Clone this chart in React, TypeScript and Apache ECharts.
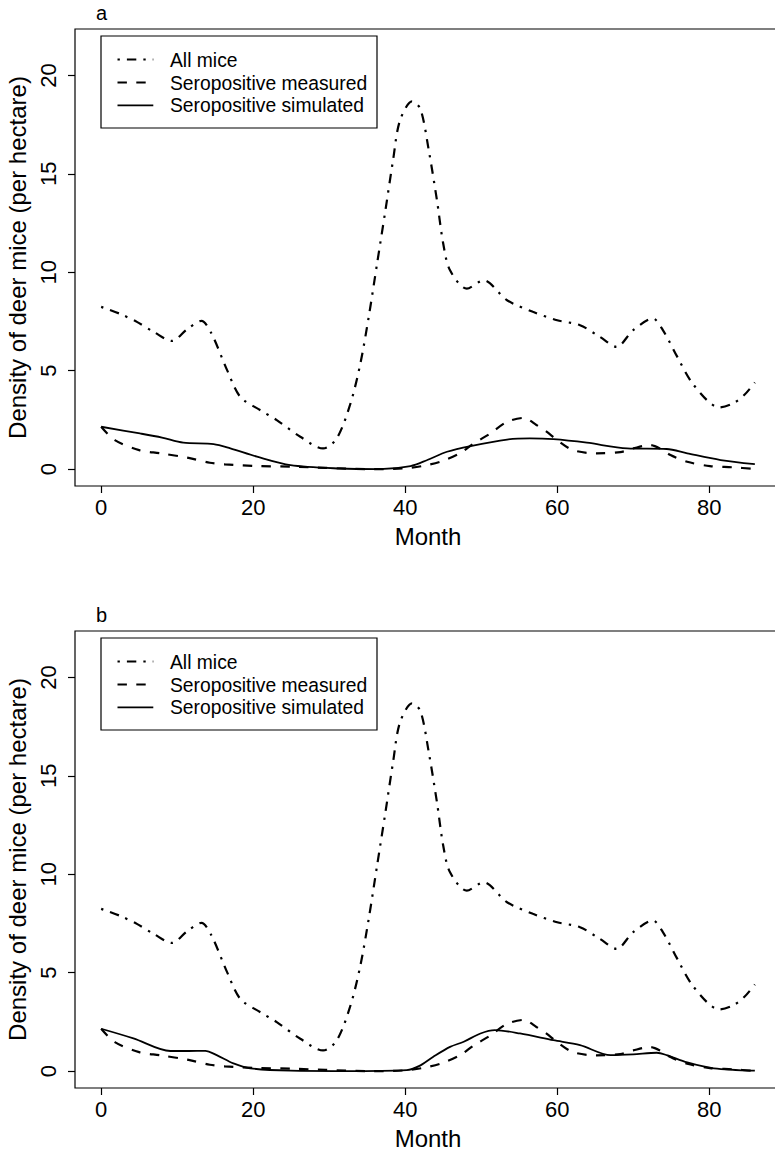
import React, { useEffect, useRef } from "react";
import * as echarts from "echarts";

// ---- Data ----
const allMiceMonths = [0, 2.4, 4.7, 7.0, 9.3, 11.3, 13.2, 14.5, 16.6, 18.3, 20.9, 23.1, 26.2, 29.2, 31.0, 32.8, 34.1, 35.2, 36.3, 37.4, 38.4, 39.3, 40.9, 42.0, 43.1, 44.2, 45.0, 45.9, 48.1, 50.3, 53.4, 56.8, 60.0, 63.0, 65.6, 67.8, 70.0, 72.6, 73.9, 75.8, 77.5, 79.7, 81.3, 83.1, 84.6, 86];
const allMiceValues = [8.24, 7.9, 7.48, 6.95, 6.51, 7.1, 7.53, 6.9, 5.0, 3.67, 3.0, 2.49, 1.64, 1.05, 1.56, 3.33, 5.36, 7.73, 10.44, 13.15, 15.69, 17.7, 18.68, 18.3, 16.2, 13.6, 11.46, 10.1, 9.17, 9.59, 8.58, 7.99, 7.56, 7.31, 6.72, 6.21, 7.06, 7.65, 7.06, 5.7, 4.52, 3.5, 3.13, 3.33, 3.76, 4.4];

const measuredMonths = [0, 1.8, 5.0, 7.8, 11.5, 14.3, 16.3, 20.3, 25.3, 29.5, 35.5, 39.7, 42.2, 44.6, 47.2, 49.0, 51.2, 53.4, 55.6, 57.3, 58.6, 60.0, 62.1, 65.2, 68.3, 70.0, 72.2, 73.5, 74.9, 77.1, 80.1, 83.1, 86];
const measuredValues = [2.15, 1.47, 0.96, 0.8, 0.57, 0.32, 0.24, 0.16, 0.12, 0.06, 0.0, 0.03, 0.15, 0.37, 0.8, 1.3, 1.81, 2.4, 2.6, 2.23, 1.9, 1.47, 0.96, 0.8, 0.86, 1.05, 1.22, 1.05, 0.71, 0.37, 0.15, 0.09, 0.0];

const simulatedAMonths = [0, 5.1, 8.0, 10.8, 14.8, 17.0, 20.5, 24.9, 31.4, 36.7, 40.7, 42.9, 45.5, 48.6, 53.4, 56.4, 59.5, 63.9, 69.2, 74.4, 77.1, 81.5, 86];
const simulatedAValues = [2.15, 1.81, 1.6, 1.34, 1.27, 1.05, 0.63, 0.2, 0.03, 0.0, 0.15, 0.46, 0.88, 1.17, 1.5, 1.56, 1.52, 1.34, 1.05, 1.02, 0.8, 0.46, 0.25];

const simulatedBMonths = [0, 4.25, 9.1, 11.5, 13.7, 15.2, 17.4, 19.6, 24.9, 32, 40.2, 41.8, 43.7, 45.9, 47.7, 49.9, 51.8, 55.1, 59.5, 63.0, 67.0, 70.0, 73.1, 74.4, 77.1, 80.6, 86];
const simulatedBValues = [2.15, 1.66, 1.02, 1.02, 1.03, 0.81, 0.39, 0.14, 0.02, 0.0, 0.05, 0.25, 0.73, 1.23, 1.49, 1.91, 2.08, 1.91, 1.57, 1.32, 0.81, 0.85, 0.93, 0.81, 0.44, 0.14, 0.02];

const xTicks = [0, 20, 40, 60, 80];
const yTicks = [0, 5, 10, 15, 20];
const legendLabels = ["All mice", "Seropositive measured", "Seropositive simulated"];
const panelLabels = ["a", "b"];
const xTitle = "Month";
const yTitle = "Density of deer mice (per hectare)";

const FONT = '"Liberation Sans", Arial, Helvetica, sans-serif';
const DOTDASH = [2.35, 7.05, 9.4, 7.05];
const DASHED = [9.4, 9.4];

const zip = (xs: number[], ys: number[]) => xs.map((x, i) => [x, ys[i]]);

function buildOption() {
  const panelTops = [29, 631];
  const sims = [
    zip(simulatedAMonths, simulatedAValues),
    zip(simulatedBMonths, simulatedBValues),
  ];
  const grids: any[] = [];
  const xAxes: any[] = [];
  const yAxes: any[] = [];
  const series: any[] = [];
  const graphics: any[] = [];

  panelTops.forEach((top, p) => {
    const dy = top - 29;
    grids.push({
      left: 75,
      top,
      width: 706,
      height: 457,
      containLabel: false,
      outerBoundsMode: "none",
      show: true,
      borderColor: "#000",
      borderWidth: 1.2,
      backgroundColor: "transparent",
    });
    xAxes.push({
      type: "value",
      gridIndex: p,
      position: "bottom",
      min: -3.44,
      max: 89.44,
      axisLine: { show: false, onZero: false },
      splitLine: { show: false },
      axisTick: {
        show: true,
        length: 7,
        customValues: xTicks,
        lineStyle: { color: "#000", width: 1.2 },
      },
      axisLabel: {
        customValues: xTicks,
        fontSize: 22,
        fontFamily: FONT,
        color: "#000",
        margin: 10,
      },
      name: xTitle,
      nameLocation: "middle",
      nameGap: 38,
      nameTextStyle: { fontSize: 24, fontFamily: FONT, color: "#000" },
    });
    yAxes.push({
      type: "value",
      gridIndex: p,
      position: "left",
      min: -0.86,
      max: 22.36,
      axisLine: { show: false, onZero: false },
      splitLine: { show: false },
      axisTick: {
        show: true,
        length: 7,
        customValues: yTicks,
        lineStyle: { color: "#000", width: 1.2 },
      },
      axisLabel: {
        customValues: yTicks,
        rotate: 90,
        fontSize: 22,
        fontFamily: FONT,
        color: "#000",
        margin: 16,
      },
      name: yTitle,
      nameLocation: "middle",
      nameRotate: 90,
      nameGap: 46,
      nameTextStyle: { fontSize: 24, fontFamily: FONT, color: "#000" },
    });

    const common = {
      type: "line",
      xAxisIndex: p,
      yAxisIndex: p,
      showSymbol: false,
      symbol: "none",
      smooth: 0.3,
      silent: true,
    };
    series.push({
      ...common,
      name: legendLabels[0],
      data: zip(allMiceMonths, allMiceValues),
      lineStyle: { color: "#000", width: 2.2, type: DOTDASH, cap: "butt" },
    });
    series.push({
      ...common,
      name: legendLabels[1],
      data: zip(measuredMonths, measuredValues),
      lineStyle: { color: "#000", width: 2.2, type: DASHED, cap: "butt" },
    });
    series.push({
      ...common,
      name: legendLabels[2],
      data: sims[p],
      lineStyle: { color: "#000", width: 1.8, type: "solid" },
    });

    // panel letter
    graphics.push({
      type: "text",
      x: 96,
      y: 13 + dy,
      style: {
        text: panelLabels[p],
        fill: "#000",
        font: `20px ${FONT}`,
        textAlign: "left",
        textVerticalAlign: "middle",
        align: "left",
        verticalAlign: "middle",
      },
    });
    // legend box
    graphics.push({
      type: "rect",
      shape: { x: 101, y: 36 + dy, width: 276, height: 92 },
      style: { fill: "#fff", stroke: "#000", lineWidth: 1.2 },
      z: 10,
    });
    const rowY = [59.5, 82.5, 105.3];
    const dashes: any[] = [DOTDASH, DASHED, null];
    const widths = [2.2, 2.2, 1.8];
    legendLabels.forEach((lab, i) => {
      graphics.push({
        type: "line",
        shape: { x1: 117.5, y1: rowY[i] + dy, x2: 153.3, y2: rowY[i] + dy },
        style: {
          stroke: "#000",
          lineWidth: widths[i],
          lineDash: dashes[i],
          lineCap: "butt",
        },
        z: 11,
      });
      graphics.push({
        type: "text",
        x: 170,
        y: rowY[i] + dy + 0.5,
        style: {
          text: lab,
          fill: "#000",
          font: `19.3px ${FONT}`,
          textAlign: "left",
          textVerticalAlign: "middle",
          align: "left",
          verticalAlign: "middle",
        },
        z: 11,
      });
    });
  });

  return {
    animation: false,
    backgroundColor: "#fff",
    textStyle: { fontFamily: FONT },
    grid: grids,
    xAxis: xAxes,
    yAxis: yAxes,
    series,
    graphic: { elements: graphics },
  };
}

export default function App() {
  const ref = useRef<HTMLDivElement>(null);
  useEffect(() => {
    document.body.style.margin = "0";
    if (!ref.current) return;
    const chart = echarts.init(ref.current, undefined, { renderer: "svg" });
    chart.setOption(buildOption() as any);
    return () => {
      chart.dispose();
    };
  }, []);
  return <div ref={ref} style={{ width: 775, height: 1152 }} />;
}
